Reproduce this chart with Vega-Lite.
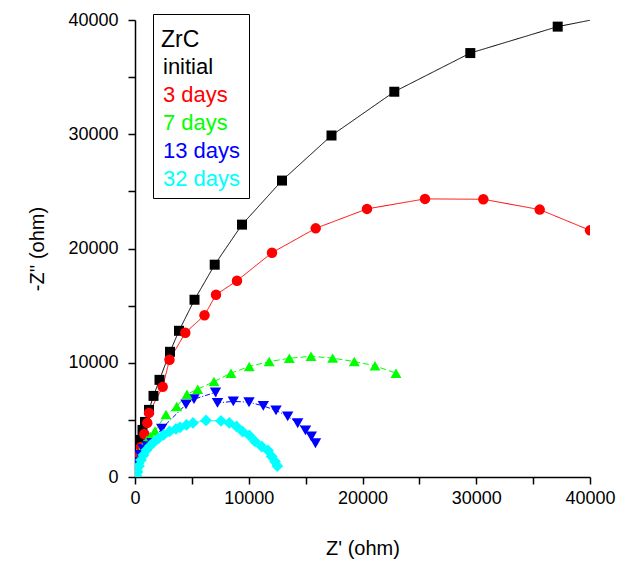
{
  "$schema": "https://vega.github.io/schema/vega-lite/v6.json",
  "width": 455,
  "height": 457,
  "autosize": {"type": "none"},
  "padding": {"left": 135, "top": 20, "right": 29, "bottom": 85},
  "background": "white",
  "config": {
    "view": {"stroke": null},
    "font": "Liberation Sans",
    "axis": {
      "domainColor": "black", "domainWidth": 1.5, "tickColor": "black", "tickWidth": 1.5, "tickSize": 7,
      "labelColor": "black", "labelFont": "Liberation Sans", "labelFontSize": 18,
      "titleColor": "black", "titleFont": "Liberation Sans", "titleFontSize": 20, "titleFontWeight": "normal",
      "grid": false
    }
  },
  "data": {
    "values": [
      {"s": "initial", "i": 1, "x": 88, "y": 789},
      {"s": "initial", "i": 2, "x": 264, "y": 1928},
      {"s": "initial", "i": 3, "x": 484, "y": 3243},
      {"s": "initial", "i": 4, "x": 659, "y": 4120},
      {"s": "initial", "i": 5, "x": 879, "y": 4821},
      {"s": "initial", "i": 6, "x": 1231, "y": 5873},
      {"s": "initial", "i": 7, "x": 1626, "y": 7100},
      {"s": "initial", "i": 8, "x": 2154, "y": 8503},
      {"s": "initial", "i": 9, "x": 3077, "y": 10957},
      {"s": "initial", "i": 10, "x": 3868, "y": 12798},
      {"s": "initial", "i": 11, "x": 5231, "y": 15515},
      {"s": "initial", "i": 12, "x": 7007, "y": 18583},
      {"s": "initial", "i": 13, "x": 9407, "y": 22090},
      {"s": "initial", "i": 14, "x": 12923, "y": 25946},
      {"s": "initial", "i": 15, "x": 17275, "y": 29891},
      {"s": "initial", "i": 16, "x": 22796, "y": 33722},
      {"s": "initial", "i": 17, "x": 29477, "y": 37106},
      {"s": "initial", "i": 18, "x": 37161, "y": 39420},
      {"s": "initial", "i": 19, "x": 42637, "y": 40498},

      {"s": "3 days", "i": 1, "x": 44, "y": 263},
      {"s": "3 days", "i": 2, "x": 176, "y": 1052},
      {"s": "3 days", "i": 3, "x": 352, "y": 1841},
      {"s": "3 days", "i": 4, "x": 527, "y": 2630},
      {"s": "3 days", "i": 5, "x": 818, "y": 3769},
      {"s": "3 days", "i": 6, "x": 1081, "y": 4734},
      {"s": "3 days", "i": 7, "x": 1231, "y": 5610},
      {"s": "3 days", "i": 8, "x": 2435, "y": 7889},
      {"s": "3 days", "i": 9, "x": 3033, "y": 10256},
      {"s": "3 days", "i": 10, "x": 4422, "y": 12623},
      {"s": "3 days", "i": 11, "x": 6110, "y": 14157},
      {"s": "3 days", "i": 12, "x": 7121, "y": 15954},
      {"s": "3 days", "i": 13, "x": 8967, "y": 17181},
      {"s": "3 days", "i": 14, "x": 12044, "y": 19635},
      {"s": "3 days", "i": 15, "x": 15886, "y": 21765},
      {"s": "3 days", "i": 16, "x": 20396, "y": 23466},
      {"s": "3 days", "i": 17, "x": 25495, "y": 24343},
      {"s": "3 days", "i": 18, "x": 30620, "y": 24308},
      {"s": "3 days", "i": 19, "x": 35578, "y": 23405},
      {"s": "3 days", "i": 20, "x": 40000, "y": 21590},

      {"s": "7 days", "i": 1, "x": 44, "y": 438},
      {"s": "7 days", "i": 2, "x": 176, "y": 964},
      {"s": "7 days", "i": 3, "x": 352, "y": 1578},
      {"s": "7 days", "i": 4, "x": 571, "y": 2367},
      {"s": "7 days", "i": 5, "x": 791, "y": 2893},
      {"s": "7 days", "i": 6, "x": 1055, "y": 3243},
      {"s": "7 days", "i": 7, "x": 1363, "y": 3550},
      {"s": "7 days", "i": 8, "x": 1758, "y": 4032},
      {"s": "7 days", "i": 9, "x": 2725, "y": 5479},
      {"s": "7 days", "i": 10, "x": 3666, "y": 6162},
      {"s": "7 days", "i": 11, "x": 4571, "y": 7249},
      {"s": "7 days", "i": 12, "x": 5512, "y": 7688},
      {"s": "7 days", "i": 13, "x": 6945, "y": 8354},
      {"s": "7 days", "i": 14, "x": 8440, "y": 9090},
      {"s": "7 days", "i": 15, "x": 10048, "y": 9669},
      {"s": "7 days", "i": 16, "x": 11798, "y": 10107},
      {"s": "7 days", "i": 17, "x": 13565, "y": 10387},
      {"s": "7 days", "i": 18, "x": 15473, "y": 10563},
      {"s": "7 days", "i": 19, "x": 17380, "y": 10405},
      {"s": "7 days", "i": 20, "x": 19279, "y": 10107},
      {"s": "7 days", "i": 21, "x": 21099, "y": 9730},
      {"s": "7 days", "i": 22, "x": 22945, "y": 9090},

      {"s": "13 days", "i": 1, "x": 26, "y": 263},
      {"s": "13 days", "i": 2, "x": 132, "y": 789},
      {"s": "13 days", "i": 3, "x": 264, "y": 1315},
      {"s": "13 days", "i": 4, "x": 440, "y": 1928},
      {"s": "13 days", "i": 5, "x": 703, "y": 2454},
      {"s": "13 days", "i": 6, "x": 1055, "y": 2717},
      {"s": "13 days", "i": 7, "x": 1495, "y": 2980},
      {"s": "13 days", "i": 8, "x": 2347, "y": 4234},
      {"s": "13 days", "i": 9, "x": 4484, "y": 6355},
      {"s": "13 days", "i": 10, "x": 5187, "y": 6811},
      {"s": "13 days", "i": 11, "x": 7077, "y": 7407},
      {"s": "13 days", "i": 12, "x": 7253, "y": 6487},
      {"s": "13 days", "i": 13, "x": 8642, "y": 6618},
      {"s": "13 days", "i": 14, "x": 10022, "y": 6548},
      {"s": "13 days", "i": 15, "x": 11279, "y": 6224},
      {"s": "13 days", "i": 16, "x": 12396, "y": 5829},
      {"s": "13 days", "i": 17, "x": 13424, "y": 5303},
      {"s": "13 days", "i": 18, "x": 14303, "y": 4707},
      {"s": "13 days", "i": 19, "x": 14989, "y": 4076},
      {"s": "13 days", "i": 20, "x": 15499, "y": 3550},
      {"s": "13 days", "i": 21, "x": 15868, "y": 2954},

      {"s": "32 days", "i": 1, "x": 132, "y": 100},
      {"s": "32 days", "i": 2, "x": 220, "y": 438},
      {"s": "32 days", "i": 3, "x": 352, "y": 964},
      {"s": "32 days", "i": 4, "x": 527, "y": 1490},
      {"s": "32 days", "i": 5, "x": 747, "y": 1928},
      {"s": "32 days", "i": 6, "x": 1011, "y": 2367},
      {"s": "32 days", "i": 7, "x": 1319, "y": 2717},
      {"s": "32 days", "i": 8, "x": 1670, "y": 3068},
      {"s": "32 days", "i": 9, "x": 2066, "y": 3375},
      {"s": "32 days", "i": 10, "x": 2505, "y": 3682},
      {"s": "32 days", "i": 11, "x": 3033, "y": 3988},
      {"s": "32 days", "i": 12, "x": 3604, "y": 4208},
      {"s": "32 days", "i": 13, "x": 3956, "y": 4339},
      {"s": "32 days", "i": 14, "x": 4527, "y": 4558},
      {"s": "32 days", "i": 15, "x": 5099, "y": 4734},
      {"s": "32 days", "i": 16, "x": 6242, "y": 4953},
      {"s": "32 days", "i": 17, "x": 7560, "y": 4909},
      {"s": "32 days", "i": 18, "x": 8290, "y": 4734},
      {"s": "32 days", "i": 19, "x": 8923, "y": 4427},
      {"s": "32 days", "i": 20, "x": 9468, "y": 3971},
      {"s": "32 days", "i": 21, "x": 10048, "y": 3638},
      {"s": "32 days", "i": 22, "x": 10549, "y": 3112},
      {"s": "32 days", "i": 23, "x": 11138, "y": 2673},
      {"s": "32 days", "i": 24, "x": 11692, "y": 2323},
      {"s": "32 days", "i": 25, "x": 12018, "y": 1797},
      {"s": "32 days", "i": 26, "x": 12308, "y": 1359},
      {"s": "32 days", "i": 27, "x": 12510, "y": 964}
    ]
  },
  "encoding": {
    "x": {
      "field": "x", "type": "quantitative",
      "scale": {"domain": [0, 40000], "nice": false, "zero": false},
      "axis": {
        "title": "Z' (ohm)", "values": [0, 5000, 10000, 15000, 20000, 25000, 30000, 35000, 40000],
        "labelExpr": "datum.value % 10000 == 0 ? format(datum.value, 'd') : ''",
        "labelPadding": 5, "titlePadding": 31, "labelFlush": false
      }
    },
    "y": {
      "field": "y", "type": "quantitative",
      "scale": {"domain": [0, 40000], "nice": false, "zero": false},
      "axis": {
        "title": "-Z'' (ohm)", "values": [0, 5000, 10000, 15000, 20000, 25000, 30000, 35000, 40000],
        "labelExpr": "datum.value % 10000 == 0 ? format(datum.value, 'd') : ''",
        "labelPadding": 10, "titlePadding": 20, "labelFlush": false
      }
    },
    "color": {
      "field": "s", "type": "nominal",
      "scale": {"domain": ["initial", "3 days", "7 days", "13 days", "32 days"], "range": ["#000000", "#ff0000", "#00ff00", "#0000ff", "#00ffff"]},
      "legend": {
        "title": ["\u00a0", "\u00a0ZrC"], "orient": "none", "legendX": 18, "legendY": -6,
        "titleFontSize": 23, "titleFontWeight": "normal", "titleColor": "black", "titleFont": "Liberation Sans",
        "titleLineHeight": 7, "titlePadding": 4,
        "labelFontSize": 22, "labelFont": "Liberation Sans",
        "labelColor": {"expr": "datum.label == 'initial' ? '#000000' : datum.label == '3 days' ? '#ff0000' : datum.label == '7 days' ? '#00ff00' : datum.label == '13 days' ? '#0000ff' : '#00ffff'"},
        "symbolSize": 0, "symbolOpacity": 0, "symbolStrokeWidth": 0, "labelOffset": -20,
        "rowPadding": 6, "padding": 8, "strokeColor": "black", "fillColor": "white", "labelLimit": 200
      }
    },
    "order": {"field": "i", "type": "quantitative"}
  },
  "layer": [
    {
      "mark": {"type": "line", "strokeWidth": 1, "clip": true},
      "encoding": {
        "strokeDash": {
          "field": "s", "type": "nominal",
          "scale": {"domain": ["initial", "3 days", "7 days", "13 days", "32 days"], "range": [[1, 0], [1, 0], [6, 3], [5, 2, 1, 2], [1, 0]]},
          "legend": null
        }
      }
    },
    {
      "mark": {"type": "point", "filled": true, "opacity": 1, "clip": true},
      "encoding": {
        "shape": {
          "field": "s", "type": "nominal",
          "scale": {"domain": ["initial", "3 days", "7 days", "13 days", "32 days"], "range": ["square", "circle", "triangle-up", "triangle-down", "diamond"]},
          "legend": null
        },
        "size": {
          "field": "s", "type": "nominal",
          "scale": {"domain": ["initial", "3 days", "7 days", "13 days", "32 days"], "range": [100, 140, 200, 200, 160]},
          "legend": null
        }
      }
    }
  ]
}
